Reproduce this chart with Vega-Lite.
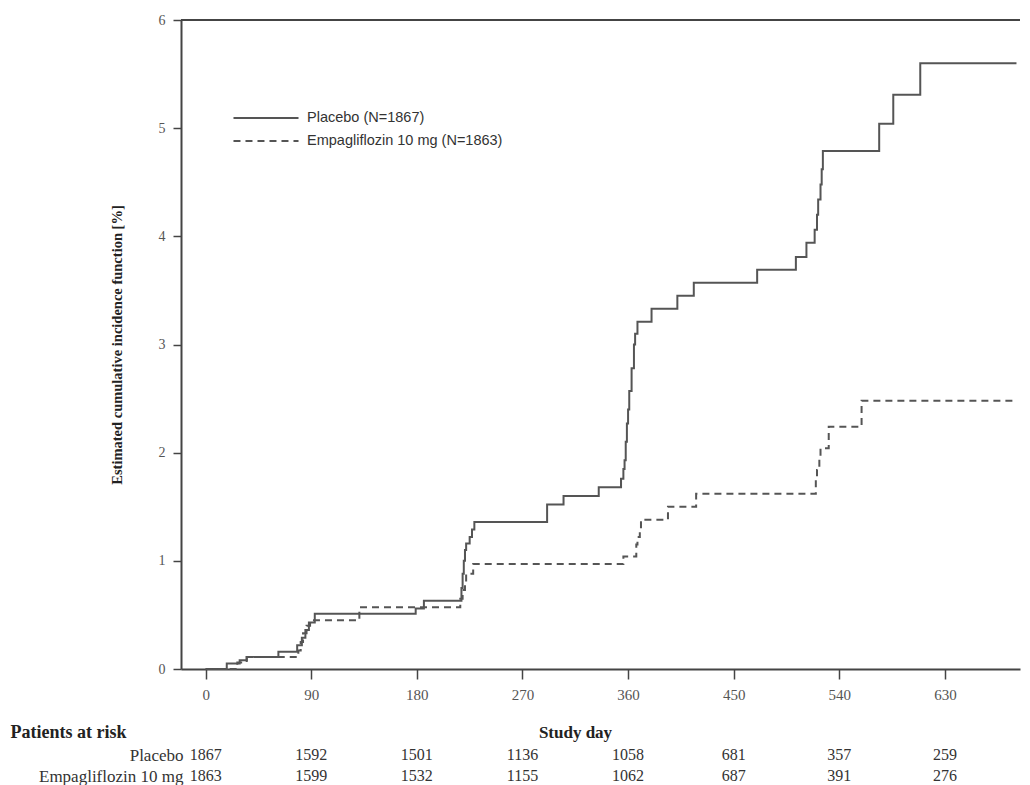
{
  "$schema": "https://vega.github.io/schema/vega-lite/v6.json",
  "width": 839,
  "height": 649,
  "autosize": "none",
  "padding": {"left": 181, "top": 20, "right": 10, "bottom": 116},
  "background": "white",
  "config": {"view": {"stroke": null}},
  "datasets": {
    "curves": [
      {"group": "Placebo (N=1867)", "day": 0, "cif": 0},
      {"group": "Placebo (N=1867)", "day": 18, "cif": 0.05},
      {"group": "Placebo (N=1867)", "day": 29, "cif": 0.08},
      {"group": "Placebo (N=1867)", "day": 35, "cif": 0.11},
      {"group": "Placebo (N=1867)", "day": 62, "cif": 0.16},
      {"group": "Placebo (N=1867)", "day": 78, "cif": 0.22},
      {"group": "Placebo (N=1867)", "day": 82, "cif": 0.29},
      {"group": "Placebo (N=1867)", "day": 85, "cif": 0.36},
      {"group": "Placebo (N=1867)", "day": 88, "cif": 0.43},
      {"group": "Placebo (N=1867)", "day": 93, "cif": 0.51},
      {"group": "Placebo (N=1867)", "day": 179, "cif": 0.56},
      {"group": "Placebo (N=1867)", "day": 186, "cif": 0.63},
      {"group": "Placebo (N=1867)", "day": 218, "cif": 0.75},
      {"group": "Placebo (N=1867)", "day": 219, "cif": 0.88},
      {"group": "Placebo (N=1867)", "day": 220, "cif": 1.0},
      {"group": "Placebo (N=1867)", "day": 221, "cif": 1.1},
      {"group": "Placebo (N=1867)", "day": 222, "cif": 1.16},
      {"group": "Placebo (N=1867)", "day": 225, "cif": 1.22},
      {"group": "Placebo (N=1867)", "day": 227, "cif": 1.29},
      {"group": "Placebo (N=1867)", "day": 229, "cif": 1.36},
      {"group": "Placebo (N=1867)", "day": 291, "cif": 1.52},
      {"group": "Placebo (N=1867)", "day": 305, "cif": 1.6},
      {"group": "Placebo (N=1867)", "day": 335, "cif": 1.68},
      {"group": "Placebo (N=1867)", "day": 354, "cif": 1.76},
      {"group": "Placebo (N=1867)", "day": 356, "cif": 1.85},
      {"group": "Placebo (N=1867)", "day": 357, "cif": 1.93},
      {"group": "Placebo (N=1867)", "day": 358, "cif": 2.1},
      {"group": "Placebo (N=1867)", "day": 359, "cif": 2.27},
      {"group": "Placebo (N=1867)", "day": 360, "cif": 2.4},
      {"group": "Placebo (N=1867)", "day": 361, "cif": 2.57},
      {"group": "Placebo (N=1867)", "day": 363, "cif": 2.78},
      {"group": "Placebo (N=1867)", "day": 365, "cif": 3.0},
      {"group": "Placebo (N=1867)", "day": 366, "cif": 3.1},
      {"group": "Placebo (N=1867)", "day": 368, "cif": 3.21},
      {"group": "Placebo (N=1867)", "day": 380, "cif": 3.33},
      {"group": "Placebo (N=1867)", "day": 402, "cif": 3.45},
      {"group": "Placebo (N=1867)", "day": 416, "cif": 3.57},
      {"group": "Placebo (N=1867)", "day": 470, "cif": 3.69},
      {"group": "Placebo (N=1867)", "day": 503, "cif": 3.81},
      {"group": "Placebo (N=1867)", "day": 512, "cif": 3.94},
      {"group": "Placebo (N=1867)", "day": 519, "cif": 4.06},
      {"group": "Placebo (N=1867)", "day": 521, "cif": 4.2},
      {"group": "Placebo (N=1867)", "day": 522, "cif": 4.34},
      {"group": "Placebo (N=1867)", "day": 524, "cif": 4.48},
      {"group": "Placebo (N=1867)", "day": 525, "cif": 4.62},
      {"group": "Placebo (N=1867)", "day": 526, "cif": 4.79},
      {"group": "Placebo (N=1867)", "day": 574, "cif": 5.04},
      {"group": "Placebo (N=1867)", "day": 586, "cif": 5.31},
      {"group": "Placebo (N=1867)", "day": 609, "cif": 5.6},
      {"group": "Placebo (N=1867)", "day": 691, "cif": 5.6},
      {"group": "Empagliflozin 10 mg (N=1863)", "day": 0, "cif": 0},
      {"group": "Empagliflozin 10 mg (N=1863)", "day": 27, "cif": 0.06},
      {"group": "Empagliflozin 10 mg (N=1863)", "day": 35, "cif": 0.11},
      {"group": "Empagliflozin 10 mg (N=1863)", "day": 79, "cif": 0.17},
      {"group": "Empagliflozin 10 mg (N=1863)", "day": 81, "cif": 0.25},
      {"group": "Empagliflozin 10 mg (N=1863)", "day": 83, "cif": 0.33},
      {"group": "Empagliflozin 10 mg (N=1863)", "day": 86, "cif": 0.4},
      {"group": "Empagliflozin 10 mg (N=1863)", "day": 89, "cif": 0.45},
      {"group": "Empagliflozin 10 mg (N=1863)", "day": 131, "cif": 0.57},
      {"group": "Empagliflozin 10 mg (N=1863)", "day": 217, "cif": 0.65},
      {"group": "Empagliflozin 10 mg (N=1863)", "day": 219, "cif": 0.73},
      {"group": "Empagliflozin 10 mg (N=1863)", "day": 221, "cif": 0.8},
      {"group": "Empagliflozin 10 mg (N=1863)", "day": 222, "cif": 0.88},
      {"group": "Empagliflozin 10 mg (N=1863)", "day": 228, "cif": 0.97},
      {"group": "Empagliflozin 10 mg (N=1863)", "day": 356, "cif": 1.04},
      {"group": "Empagliflozin 10 mg (N=1863)", "day": 367, "cif": 1.15},
      {"group": "Empagliflozin 10 mg (N=1863)", "day": 368, "cif": 1.22},
      {"group": "Empagliflozin 10 mg (N=1863)", "day": 370, "cif": 1.3},
      {"group": "Empagliflozin 10 mg (N=1863)", "day": 371, "cif": 1.38},
      {"group": "Empagliflozin 10 mg (N=1863)", "day": 394, "cif": 1.5},
      {"group": "Empagliflozin 10 mg (N=1863)", "day": 418, "cif": 1.62},
      {"group": "Empagliflozin 10 mg (N=1863)", "day": 520, "cif": 1.75},
      {"group": "Empagliflozin 10 mg (N=1863)", "day": 521, "cif": 1.84},
      {"group": "Empagliflozin 10 mg (N=1863)", "day": 523, "cif": 1.94},
      {"group": "Empagliflozin 10 mg (N=1863)", "day": 524, "cif": 2.04},
      {"group": "Empagliflozin 10 mg (N=1863)", "day": 531, "cif": 2.24},
      {"group": "Empagliflozin 10 mg (N=1863)", "day": 559, "cif": 2.48},
      {"group": "Empagliflozin 10 mg (N=1863)", "day": 691, "cif": 2.48}
    ],
    "risk": [
      {"arm": "Placebo", "day": 0, "n": 1867},
      {"arm": "Placebo", "day": 90, "n": 1592},
      {"arm": "Placebo", "day": 180, "n": 1501},
      {"arm": "Placebo", "day": 270, "n": 1136},
      {"arm": "Placebo", "day": 360, "n": 1058},
      {"arm": "Placebo", "day": 450, "n": 681},
      {"arm": "Placebo", "day": 540, "n": 357},
      {"arm": "Placebo", "day": 630, "n": 259},
      {"arm": "Empagliflozin 10 mg", "day": 0, "n": 1863},
      {"arm": "Empagliflozin 10 mg", "day": 90, "n": 1599},
      {"arm": "Empagliflozin 10 mg", "day": 180, "n": 1532},
      {"arm": "Empagliflozin 10 mg", "day": 270, "n": 1155},
      {"arm": "Empagliflozin 10 mg", "day": 360, "n": 1062},
      {"arm": "Empagliflozin 10 mg", "day": 450, "n": 687},
      {"arm": "Empagliflozin 10 mg", "day": 540, "n": 391},
      {"arm": "Empagliflozin 10 mg", "day": 630, "n": 276}
    ],
    "border": [{"cif": 6}]
  },
  "layer": [
    {
      "layer": [
        {
          "data": {"name": "curves"},
          "mark": {"type": "line", "interpolate": "step-after", "color": "#555", "strokeWidth": 2},
          "encoding": {
            "x": {
              "field": "day", "type": "quantitative",
              "scale": {"domain": [-21, 694], "nice": false, "zero": false},
              "axis": {
                "values": [0, 90, 180, 270, 360, 450, 540, 630],
                "grid": false,
                "domainColor": "#444", "domainWidth": 2,
                "tickColor": "#444", "tickWidth": 1.5, "tickSize": 10,
                "labelFont": "Liberation Serif", "labelFontSize": 15, "labelColor": "#555", "labelPadding": 8,
                "labelFlush": false,
                "title": "Study day",
                "titleFont": "Liberation Serif", "titleFontSize": 17, "titleFontWeight": "bold", "titleColor": "#222",
                "titleX": 394, "titleY": 63, "titleBaseline": "middle", "titleAlign": "center"
              }
            },
            "y": {
              "field": "cif", "type": "quantitative",
              "scale": {"domain": [0, 6], "nice": false},
              "axis": {
                "values": [0, 1, 2, 3, 4, 5, 6],
                "format": "d",
                "grid": false,
                "domainColor": "#444", "domainWidth": 2,
                "tickColor": "#444", "tickWidth": 1.5, "tickSize": 8,
                "labelFont": "Liberation Serif", "labelFontSize": 14, "labelColor": "#555", "labelPadding": 8,
                "title": "Estimated cumulative incidence function [%]",
                "titleFont": "Liberation Serif", "titleFontSize": 14.5, "titleFontWeight": "bold", "titleColor": "#222",
                "titlePadding": 34
              }
            },
            "strokeDash": {
              "field": "group", "type": "nominal",
              "scale": {"domain": ["Placebo (N=1867)", "Empagliflozin 10 mg (N=1863)"], "range": [[1, 0], [7, 5]]},
              "legend": {
                "orient": "none", "legendX": 73, "legendY": 86, "title": null,
                "symbolType": "M-3,0H3", "symbolSize": 470, "symbolStrokeWidth": 2, "symbolStrokeColor": "#555",
                "labelFont": "Liberation Sans", "labelFontSize": 14.5, "labelColor": "#333", "labelOffset": 29,
                "labelLimit": 400, "padding": 0, "rowPadding": 4
              }
            }
          }
        },
        {
          "data": {"name": "border"},
          "mark": {"type": "rule", "color": "#444", "strokeWidth": 2},
          "encoding": {
            "y": {"field": "cif", "type": "quantitative"}
          }
        }
      ]
    },
    {
      "data": {"name": "risk"},
      "mark": {"type": "text", "font": "Liberation Serif", "fontSize": 16, "color": "#333", "align": "center", "baseline": "middle"},
      "encoding": {
        "x": {"field": "day", "type": "quantitative", "scale": {"domain": [-21, 694], "nice": false, "zero": false}},
        "y": {
          "field": "arm", "type": "nominal",
          "scale": {"type": "point", "domain": ["Placebo", "Empagliflozin 10 mg"], "range": [735, 756], "padding": 0},
          "axis": {
            "orient": "left", "domain": false, "ticks": false, "tickSize": 0, "grid": false,
            "labelFont": "Liberation Serif", "labelFontSize": 17, "labelColor": "#333", "labelPadding": -2,
            "title": "Patients at risk", "titleAngle": 0, "titleX": -171, "titleY": 712,
            "titleAlign": "left", "titleBaseline": "middle",
            "titleFont": "Liberation Serif", "titleFontSize": 18, "titleFontWeight": "bold", "titleColor": "#222"
          }
        },
        "text": {"field": "n", "type": "quantitative"}
      }
    }
  ],
  "resolve": {"scale": {"y": "independent"}, "axis": {"y": "independent"}}
}
